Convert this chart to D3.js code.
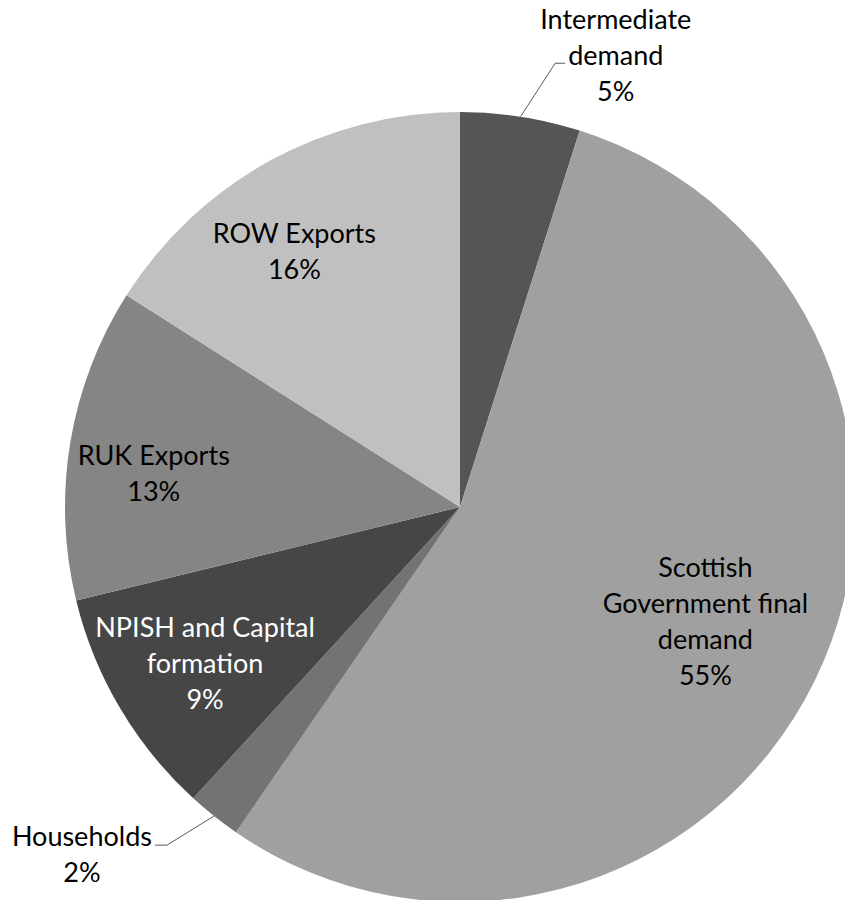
<!DOCTYPE html>
<html><head><meta charset="utf-8">
<script src="https://cdn.jsdelivr.net/npm/d3@7"></script>
<style>body{margin:0;background:#fff}svg{display:block}</style>
</head><body>
<svg id="c" width="845" height="900"></svg>
<script>
const categories = ["Intermediate demand","Scottish Government final demand","Households","NPISH and Capital formation","RUK Exports","ROW Exports"];
const values = [4.9, 54.7, 2.2, 9.4, 12.8, 16.0];
const pctLabels = ["5%","55%","2%","9%","13%","16%"];
const labelLines = [["Intermediate","demand"],["Scottish","Government final","demand"],["Households"],["NPISH and Capital","formation"],["RUK Exports"],["ROW Exports"]];
const colors = ["#555555","#a0a0a0","#737373","#464646","#858585","#c0c0c0"];
const textColors = ["#000","#000","#000","#fff","#000","#000"];

// layout: label polar positions relative to slice mid angle
const layout = [
  {r:1.21, da:10.2, outside:true, side:"left", line:1},
  {r:0.686, da:-1},
  {r:1.301, da:8.85, outside:true, side:"right", line:0},
  {r:0.757, da:-0.9},
  {r:0.78, da:-3.1},
  {r:0.77, da:-4.2}
];

const W=845,H=900,cx=460,cy=507,R=395,fs=27,lh=36;
const svg=d3.select("#c");
const g=svg.append("g").attr("transform",`translate(${cx},${cy})`);
const pie=d3.pie().sort(null).value(d=>d);
const arcs=pie(values);
const arc=d3.arc().innerRadius(0).outerRadius(R);
g.selectAll("path.s").data(arcs).join("path").attr("class","s")
  .attr("d",arc).attr("fill",(d,i)=>colors[i]);

arcs.forEach((a,i)=>{
  const L=layout[i];
  const mid=(a.startAngle+a.endAngle)/2;
  const ang=mid+L.da*Math.PI/180;
  const lx=Math.sin(ang)*R*L.r, ly=-Math.cos(ang)*R*L.r;
  const lines=labelLines[i].concat([pctLabels[i]]);
  const n=lines.length;
  const t=g.append("text").attr("text-anchor","middle")
    .attr("font-family","Lato, 'Open Sans', sans-serif").attr("font-size",fs)
    .attr("fill",textColors[i]);
  const tsp=lines.map((s,k)=>t.append("tspan").attr("x",lx)
    .attr("y",ly+(k-(n-1)/2)*lh+fs*0.35).text(s));
  if(L.outside){
    const node=tsp[L.line].node();
    const w=node.getComputedTextLength();
    const by=ly+(L.line-(n-1)/2)*lh+fs*0.3;
    const sx=Math.sin(mid)*R, sy=-Math.cos(mid)*R;
    let ex,hx;
    if(L.side==="left"){ hx=lx-w/2-3; ex=hx-10; }
    else { hx=lx+w/2+3; ex=hx+12; }
    g.append("path").attr("d",`M${sx},${sy}L${ex},${by}L${hx},${by}`)
      .attr("fill","none").attr("stroke","#595959").attr("stroke-width",1);
  }
});
</script>
</body></html>
